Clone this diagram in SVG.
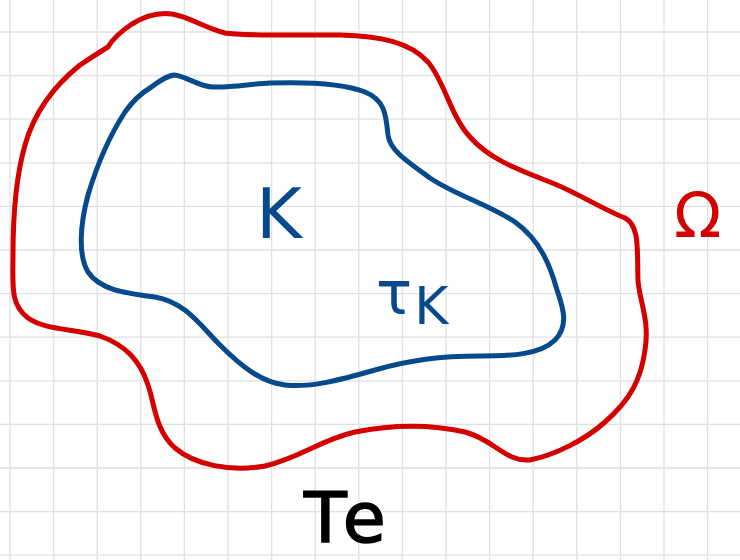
<svg xmlns="http://www.w3.org/2000/svg" width="740" height="560" viewBox="0 0 740 560">
<style>
.grid{stroke:#e0e0e0;stroke-width:1.3;fill:none}
.curve{fill:none;stroke-width:5;stroke-linecap:round;stroke-linejoin:round}
.red{stroke:#d40000}
.blue{stroke:#064a8c}
.lbl{font-family:"DejaVu Sans","Liberation Sans",sans-serif}
</style>
<rect width="740" height="560" fill="#ffffff"/>
<g id="grid" class="grid">
<path d="M10,0V560M53.6,0V560M97.2,0V560M140.8,0V560M184.4,0V560M228,0V560M271.6,0V560M315.2,0V560M358.8,0V560M402.4,0V560M446,0V560M489.6,0V560M533.2,0V560M576.8,0V560M620.4,0V560M664,0V560M707.6,0V560"/>
<path d="M0,32H740M0,75.6H740M0,119.2H740M0,162.8H740M0,206.4H740M0,250H740M0,293.6H740M0,337.2H740M0,380.8H740M0,424.4H740M0,468H740M0,511.6H740M0,555.2H740"/>
</g>
<g id="omega-region">
<path class="curve red" d="M108,47 C112,40 120,32 132,24 C145,16 158,12 172,14 C190,17 205,28 225,33 C240,36 300,35 340,35 C380,36 410,42 428,62 C445,82 450,115 470,137 C490,160 520,170 550,182 C580,194 600,208 625,218 C640,226 637,250 638,280 C639,300 650,320 645,350 C641,380 630,400 605,422 C585,440 555,455 530,460 C505,462 495,440 465,432 C430,424 390,425 355,432 C320,440 300,458 265,466 C230,472 195,465 175,448 C155,430 155,405 148,385 C140,360 125,345 100,336 C70,328 45,330 28,318 C10,305 13,285 13,255 C13,220 15,180 25,145 C35,110 55,85 80,65 C95,55 103,50 108,47 Z"/>
</g>
<g id="k-region">
<path class="curve blue" d="M150,88 C158,82 166,76 174,75 C186,76 198,86 212,87 C230,88 250,84 270,83 C300,82 340,82 365,92 C385,100 386,115 388,135 C390,150 405,160 430,178 C455,195 490,205 515,222 C540,240 550,265 557,290 C562,305 570,325 555,340 C540,355 510,356 480,356 C440,356 410,360 375,370 C340,380 310,388 285,385 C260,382 240,365 220,345 C200,325 185,302 155,297 C125,293 100,290 88,272 C78,255 80,225 88,195 C97,165 110,135 125,112 C135,98 143,92 150,88 Z"/>
</g>
<g id="labels" class="lbl">
<text x="256" y="238" font-size="70" fill="#064a8c">K</text>
<text x="376" y="314" font-size="60" fill="#064a8c">τ<tspan font-size="52" dy="10" dx="2">K</tspan></text>
<text x="674" y="237" font-size="62" fill="#d40000">Ω</text>
<text x="304" y="542" font-size="70" letter-spacing="8" fill="#000000" stroke="#000000" stroke-width="1.5">Te</text>
</g>
</svg>
